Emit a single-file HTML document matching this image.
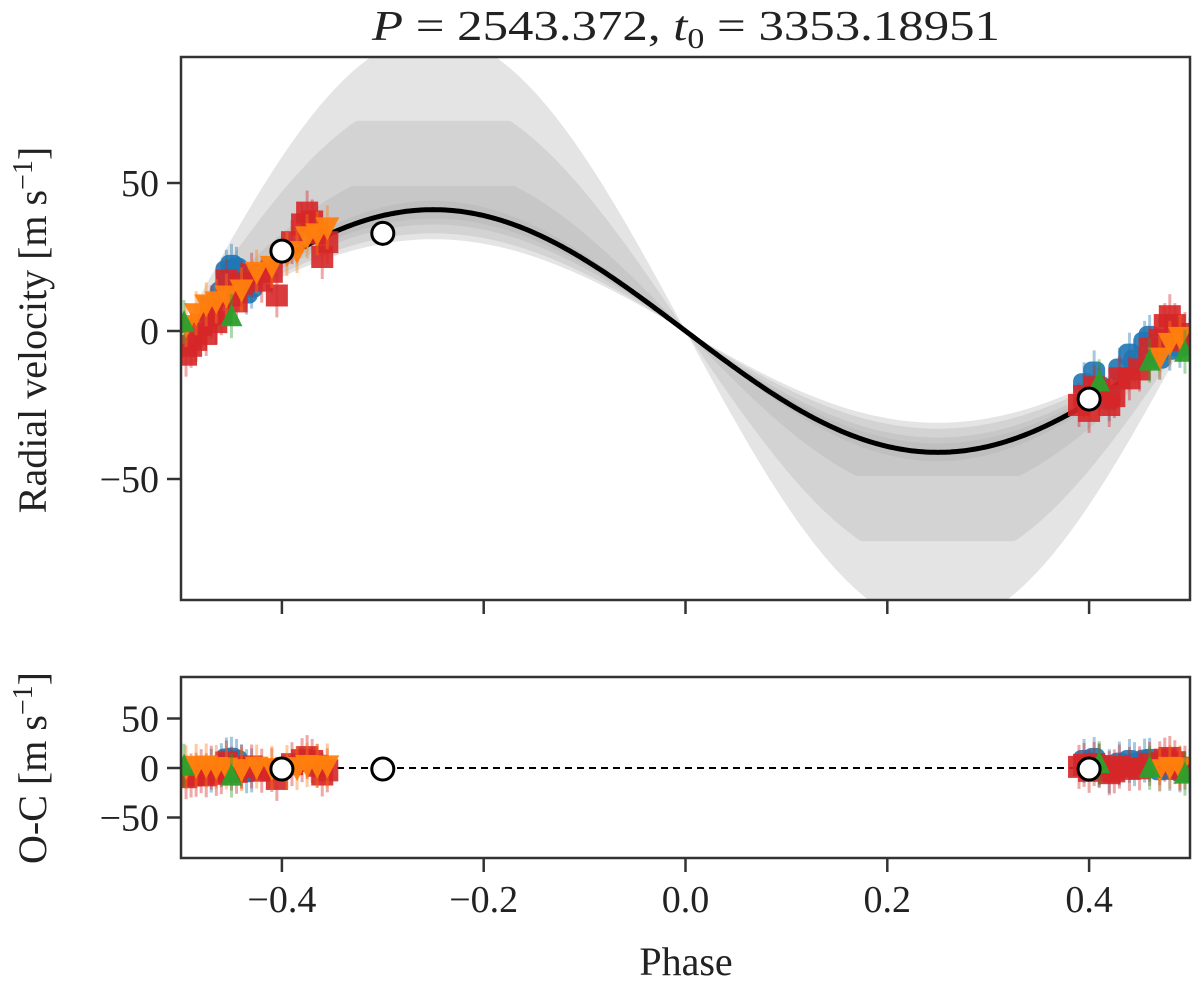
<!DOCTYPE html>
<html><head><meta charset="utf-8"><style>
html,body{margin:0;padding:0;background:#fff;}
svg{display:block;font-family:"Liberation Serif","DejaVu Serif",serif;}
</style></head><body>
<svg id="chart" width="1200" height="986" viewBox="0 0 1200 986">
<defs>
<clipPath id="clipTop"><rect x="181" y="57" width="1009" height="543"/></clipPath>
<clipPath id="clipBot"><rect x="181" y="677" width="1009" height="181"/></clipPath>
</defs>
<text x="686" y="40" font-size="42" text-anchor="middle" textLength="628" lengthAdjust="spacingAndGlyphs" fill="#222"><tspan font-style="italic">P</tspan> = 2543.372, <tspan font-style="italic">t</tspan><tspan font-size="28" dy="8">0</tspan><tspan dy="-8"> = 3353.18951</tspan></text>
<g id="topPanel"></g>
<g id="botPanel"></g>
<text transform="translate(46,330) rotate(-90)" font-size="40" text-anchor="middle" fill="#222">Radial velocity [m s<tspan font-size="28" dy="-14">−1</tspan><tspan dy="14">]</tspan></text>
<text transform="translate(46,768) rotate(-90)" font-size="40" text-anchor="middle" fill="#222">O-C [m s<tspan font-size="28" dy="-14">−1</tspan><tspan dy="14">]</tspan></text>
<text x="686" y="975" font-size="40" text-anchor="middle" fill="#222">Phase</text>
</svg>
<script>
const K = 41;
const xTicks = [-0.4, -0.2, 0.0, 0.2, 0.4];
const xTickLabels = ["−0.4", "−0.2", "0.0", "0.2", "0.4"];
const yTicksTop = [50, 0, -50];
const yTickLabelsTop = ["50", "0", "−50"];
const yTicksBot = [50, 0, -50];
const yTickLabelsBot = ["50", "0", "−50"];
const bandLow = [31, 33, 36, 38];
const bandHigh = [100, 80, 56, 44];
const bandCap = [200, 71, 49, 200];
const bandColor = ["#e4e4e4", "#d3d3d3", "#c7c7c7", "#bfbfbf"];
const redX = [-0.495,-0.49,-0.485,-0.48,-0.475,-0.47,-0.465,-0.46,-0.455,-0.45,-0.445,-0.44,-0.43,-0.42,-0.41,-0.405,-0.39,-0.38,-0.375,-0.37,-0.365,-0.36,-0.355,0.39,0.395,0.40,0.405,0.41,0.42,0.425,0.43,0.44,0.45,0.46,0.47,0.475,0.48,0.485,0.49,0.495];
const redY = [-8,-5,-3,2,-1,8,3,6,17,12,10,16,19,17,20,12,30,36,40,37,33,25,30,-25,-22,-27,-19,-20,-25,-22,-16,-16,-13,-6,-3,2,5,2,-3,-1];
const blueX = [-0.47,-0.46,-0.455,-0.45,-0.445,-0.44,-0.435,-0.43,0.395,0.405,0.41,0.42,0.43,0.44,0.445,0.455,0.46,0.47,0.48,0.49,0.5];
const blueY = [5,13,20,22,21,17,13,15,-18,-14,-19,-23,-13,-8,-10,-4,-2,-9,-6,-5,-3];
const orangeX = [-0.495,-0.485,-0.475,-0.465,-0.455,-0.44,-0.425,-0.41,-0.395,-0.385,-0.375,-0.365,-0.355,0.47,0.48,0.49];
const orangeY = [2,6,9,10,12,14,20,22,26,27,32,33,35,-9,-4,-2];
const greenX = [-0.497,-0.45,0.41,0.46,0.495];
const greenY = [3,5,-17,-10,-7];
const openX = [-0.4,-0.3,0.4];
const openY = [27,33,-23];
const openRes = [-1,-1,-1];

const NS="http://www.w3.org/2000/svg";
const X0=181,X1=1190;
const sx=p=>X0+(p+0.5)*(X1-X0);
const syT=v=>331-v*2.96;
const syB=v=>768-v*0.99;
const model=p=>-K*Math.sin(2*Math.PI*p);
function mk(tag,attrs,parent){const e=document.createElementNS(NS,tag);for(const k in attrs)e.setAttribute(k,attrs[k]);parent.appendChild(e);return e;}
const topPanel=document.getElementById('topPanel'), botPanel=document.getElementById('botPanel');
const gTop=mk('g',{'clip-path':'url(#clipTop)'},topPanel);
const gBot=mk('g',{'clip-path':'url(#clipBot)'},botPanel);

for(let b=0;b<bandLow.length;b++){
  let up=[],dn=[];
  for(let i=0;i<=400;i++){const p=-0.5+i/400;const s=-Math.sin(2*Math.PI*p);
    const a=Math.min(bandHigh[b]*Math.abs(s),bandCap[b])*Math.sign(s);
    const c=bandLow[b]*s;
    up.push(sx(p).toFixed(1)+','+syT(Math.max(a,c)).toFixed(1));
    dn.push(sx(p).toFixed(1)+','+syT(Math.min(a,c)).toFixed(1));}
  const e=mk('polygon',{points:up.concat(dn.reverse()).join(' '),fill:bandColor[b]},gTop);
  
  
}
let pts=[];for(let i=0;i<=400;i++){const p=-0.5+i/400;pts.push(sx(p).toFixed(1)+','+syT(model(p)).toFixed(1));}
const ml=mk('polyline',{points:pts.join(' '),fill:'none',stroke:'#000','stroke-width':5},gTop);


const zl=mk('line',{x1:X0,x2:X1,y1:syB(0),y2:syB(0),stroke:'#000','stroke-width':2,'stroke-dasharray':'7,5'},gBot);



function marker(g,shape,color,x,y){
  mk('line',{x1:x,x2:x,y1:y-22,y2:y+22,stroke:color,'stroke-width':3,opacity:0.4},g);
  let e;
  if(shape==='sq') e=mk('rect',{x:x-11,y:y-11,width:22,height:22,fill:color,opacity:0.9},g);
  else if(shape==='ci') e=mk('rect',{x:x-11,y:y-11,width:22,height:22,rx:8,fill:color,opacity:0.9},g);
  else if(shape==='dn') e=mk('polygon',{points:`${x-12},${y-10} ${x+12},${y-10} ${x},${y+13}`,fill:color,opacity:0.95},g);
  else e=mk('polygon',{points:`${x-11},${y+10} ${x+11},${y+10} ${x},${y-12}`,fill:color,opacity:0.95},g);
  return e;
}
const series=[[blueX,blueY,'ci','#1f77b4','blue'],[redX,redY,'sq','#d62728','red'],[orangeX,orangeY,'dn','#ff7f0e','orange'],[greenX,greenY,'up','#2ca02c','green']];
for(const [xs,ys,sh,col,nm] of series){
  for(let i=0;i<xs.length;i++){
    const a=marker(gTop,sh,col,sx(xs[i]),syT(ys[i]));
    
    
    const r=ys[i]-model(xs[i]);
    const b=marker(gBot,sh,col,sx(xs[i]),syB(r));
    
    
  }
}
for(let i=0;i<openX.length;i++){
  const a=mk('circle',{cx:sx(openX[i]),cy:syT(openY[i]),r:11,fill:'#fff',stroke:'#000','stroke-width':3},gTop);
  
  
  const b=mk('circle',{cx:sx(openX[i]),cy:syB(openRes[i]),r:11,fill:'#fff',stroke:'#000','stroke-width':3},gBot);
  
  
}
function frame(g,y0,y1,sy,yt,ytl,xlabels,nm){
  const f=mk('rect',{x:X0,y:y0,width:X1-X0,height:y1-y0,fill:'none',stroke:'#333','stroke-width':2.5},g);
  
  
  for(let i=0;i<xTicks.length;i++){
    const x=sx(xTicks[i]);
    mk('line',{x1:x,x2:x,y1:y1,y2:y1+14,stroke:'#333','stroke-width':2.5},g);
    if(xlabels){const t=mk('text',{x:x,y:y1+54,'font-size':38,'text-anchor':'middle',fill:'#222'},g);t.textContent=xTickLabels[i];
      
      }
  }
  for(let i=0;i<yt.length;i++){
    const y=sy(yt[i]);
    mk('line',{x1:X0,x2:X0-14,y1:y,y2:y,stroke:'#333','stroke-width':2.5},g);
    const t=mk('text',{x:X0-22,y:y+13,'font-size':38,'text-anchor':'end',fill:'#222'},g);t.textContent=ytl[i];
    
    
  }
}
frame(topPanel,57,600,syT,yTicksTop,yTickLabelsTop,false,'rv-panel');
frame(botPanel,677,858,syB,yTicksBot,yTickLabelsBot,true,'residual-panel');
</script>
</body></html>
